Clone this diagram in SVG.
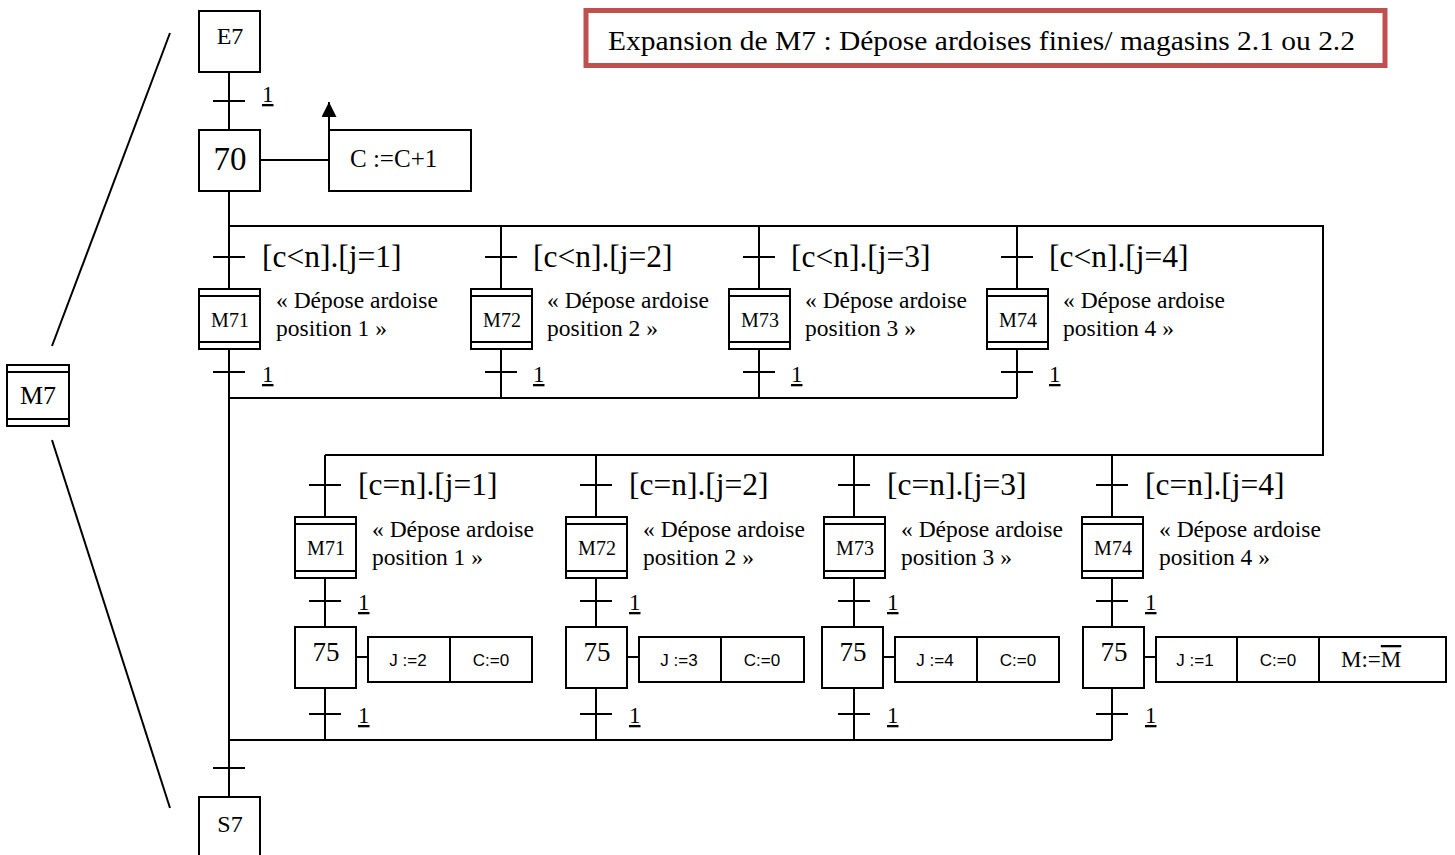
<svg xmlns="http://www.w3.org/2000/svg" width="1455" height="855" viewBox="0 0 1455 855" font-family="'Liberation Serif', 'Times New Roman', serif">
<style>
.box{fill:#fff;stroke:#000;stroke-width:2}
.ln{stroke:#000;stroke-width:2;fill:none}
.tr{stroke:#000;stroke-width:2}
text{font-family:"Liberation Serif","Times New Roman","DejaVu Serif",serif;fill:#000}
.st{font-size:24px;text-anchor:middle}
.big{font-size:33px;text-anchor:middle}
.n75{font-size:27px;text-anchor:middle}
.mac{font-size:20px;text-anchor:middle}
.cond{font-size:31.5px}
.desc{font-size:23.5px}
.one{font-size:23px;text-decoration:underline}
.act{font-size:25px}
.sans{font-family:"Liberation Sans",Arial,sans-serif;font-size:17px;text-anchor:middle}
.title{font-size:27px}
</style>
<defs>
<marker id="arr" viewBox="0 0 10 10" refX="10" refY="5" markerWidth="15" markerHeight="15" markerUnits="userSpaceOnUse" orient="auto">
<path d="M0,0 L10,5 L0,10 z" fill="#000"/>
</marker>
</defs>

<g id="connectors">
<line class="ln" x1="229" y1="72" x2="229" y2="130"/>
<line class="tr" x1="213" y1="101" x2="245" y2="101"/>
<line class="ln" x1="229" y1="191" x2="229" y2="226"/>
<polyline class="ln" points="229,226 1323,226 1323,455 325,455"/>
<line class="ln" x1="229" y1="226" x2="229" y2="289"/>
<line class="ln" x1="501" y1="226" x2="501" y2="289"/>
<line class="ln" x1="759" y1="226" x2="759" y2="289"/>
<line class="ln" x1="1017" y1="226" x2="1017" y2="289"/>
<line class="tr" x1="213" y1="257" x2="245" y2="257"/>
<line class="tr" x1="485" y1="257" x2="517" y2="257"/>
<line class="tr" x1="743" y1="257" x2="775" y2="257"/>
<line class="tr" x1="1001" y1="257" x2="1033" y2="257"/>
<line class="ln" x1="229" y1="349" x2="229" y2="398"/>
<line class="ln" x1="501" y1="349" x2="501" y2="398"/>
<line class="ln" x1="759" y1="349" x2="759" y2="398"/>
<line class="ln" x1="1017" y1="349" x2="1017" y2="398"/>
<line class="tr" x1="213" y1="372" x2="245" y2="372"/>
<line class="tr" x1="485" y1="372" x2="517" y2="372"/>
<line class="tr" x1="743" y1="372" x2="775" y2="372"/>
<line class="tr" x1="1001" y1="372" x2="1033" y2="372"/>
<line class="ln" x1="229" y1="398" x2="1017" y2="398"/>
<line class="ln" x1="229" y1="398" x2="229" y2="797"/>
<line class="tr" x1="213" y1="768" x2="245" y2="768"/>
<line class="ln" x1="325" y1="455" x2="325" y2="517"/>
<line class="ln" x1="596" y1="455" x2="596" y2="517"/>
<line class="ln" x1="854" y1="455" x2="854" y2="517"/>
<line class="ln" x1="1112" y1="455" x2="1112" y2="517"/>
<line class="tr" x1="309" y1="485" x2="341" y2="485"/>
<line class="tr" x1="580" y1="485" x2="612" y2="485"/>
<line class="tr" x1="838" y1="485" x2="870" y2="485"/>
<line class="tr" x1="1096" y1="485" x2="1128" y2="485"/>
<line class="ln" x1="325" y1="578" x2="325" y2="627"/>
<line class="ln" x1="596" y1="578" x2="596" y2="627"/>
<line class="ln" x1="854" y1="578" x2="854" y2="627"/>
<line class="ln" x1="1112" y1="578" x2="1112" y2="627"/>
<line class="tr" x1="309" y1="601" x2="341" y2="601"/>
<line class="tr" x1="580" y1="601" x2="612" y2="601"/>
<line class="tr" x1="838" y1="601" x2="870" y2="601"/>
<line class="tr" x1="1096" y1="601" x2="1128" y2="601"/>
<line class="ln" x1="325" y1="688" x2="325" y2="740"/>
<line class="ln" x1="596" y1="688" x2="596" y2="740"/>
<line class="ln" x1="854" y1="688" x2="854" y2="740"/>
<line class="ln" x1="1112" y1="688" x2="1112" y2="740"/>
<line class="tr" x1="309" y1="714" x2="341" y2="714"/>
<line class="tr" x1="580" y1="714" x2="612" y2="714"/>
<line class="tr" x1="838" y1="714" x2="870" y2="714"/>
<line class="tr" x1="1096" y1="714" x2="1128" y2="714"/>
<line class="ln" x1="229" y1="740" x2="1112" y2="740"/>
<line class="ln" x1="260" y1="160" x2="329" y2="160"/>
<line class="ln" x1="329" y1="130" x2="329" y2="102" marker-end="url(#arr)"/>
<line class="ln" x1="356" y1="657" x2="368" y2="657"/>
<line class="ln" x1="627" y1="657" x2="639" y2="657"/>
<line class="ln" x1="883" y1="657" x2="895" y2="657"/>
<line class="ln" x1="1144" y1="657" x2="1156" y2="657"/>
<line class="ln" x1="170" y1="33" x2="52" y2="346" stroke-width="1.5"/>
<line class="ln" x1="52" y1="440" x2="170" y2="808" stroke-width="1.5"/>
<text class="one" x="262" y="102">1</text>
<text class="cond" x="262" y="267">[c&lt;n].[j=1]</text>
<text class="cond" x="533" y="267">[c&lt;n].[j=2]</text>
<text class="cond" x="791" y="267">[c&lt;n].[j=3]</text>
<text class="cond" x="1049" y="267">[c&lt;n].[j=4]</text>
<text class="one" x="262" y="382">1</text>
<text class="one" x="533" y="382">1</text>
<text class="one" x="791" y="382">1</text>
<text class="one" x="1049" y="382">1</text>
<text class="cond" x="358" y="495">[c=n].[j=1]</text>
<text class="cond" x="629" y="495">[c=n].[j=2]</text>
<text class="cond" x="887" y="495">[c=n].[j=3]</text>
<text class="cond" x="1145" y="495">[c=n].[j=4]</text>
<text class="one" x="358" y="610">1</text>
<text class="one" x="629" y="610">1</text>
<text class="one" x="887" y="610">1</text>
<text class="one" x="1145" y="610">1</text>
<text class="one" x="358" y="723">1</text>
<text class="one" x="629" y="723">1</text>
<text class="one" x="887" y="723">1</text>
<text class="one" x="1145" y="723">1</text>
</g>

<g id="title">
<rect x="586" y="10.5" width="799" height="55" fill="#fff" stroke="#C0504D" stroke-width="5"/>
<text class="title" x="608" y="50" textLength="747" lengthAdjust="spacingAndGlyphs">Expansion de M7 : Dépose ardoises finies/ magasins 2.1 ou 2.2</text>
</g>

<g id="M7">
<rect class="box" x="7" y="365" width="62" height="61"/>
<line class="ln" x1="7" y1="372" x2="69" y2="372"/>
<line class="ln" x1="7" y1="419" x2="69" y2="419"/>
<text class="st" x="38" y="404" style="font-size:26px">M7</text>
</g>

<g id="E7">
<rect class="box" x="199" y="11" width="61" height="61"/>
<text class="st" x="230" y="44">E7</text>
</g>

<g id="step70">
<rect class="box" x="199" y="130" width="61" height="61"/>
<text class="big" x="230" y="170">70</text>
</g>

<g id="action70">
<rect class="box" x="329" y="130" width="142" height="61"/>
<text class="act" x="350" y="167">C :=C+1</text>
</g>

<g id="M71a">
<rect class="box" x="199" y="289" width="61" height="60"/>
<line class="ln" x1="199" y1="296" x2="260" y2="296"/>
<line class="ln" x1="199" y1="342" x2="260" y2="342"/>
<text class="mac" x="230" y="327">M71</text>
<text class="desc" x="276" y="308">« Dépose ardoise</text>
<text class="desc" x="276" y="336">position 1 »</text>
</g>
<g id="M72a">
<rect class="box" x="471" y="289" width="61" height="60"/>
<line class="ln" x1="471" y1="296" x2="532" y2="296"/>
<line class="ln" x1="471" y1="342" x2="532" y2="342"/>
<text class="mac" x="502" y="327">M72</text>
<text class="desc" x="547" y="308">« Dépose ardoise</text>
<text class="desc" x="547" y="336">position 2 »</text>
</g>
<g id="M73a">
<rect class="box" x="729" y="289" width="61" height="60"/>
<line class="ln" x1="729" y1="296" x2="790" y2="296"/>
<line class="ln" x1="729" y1="342" x2="790" y2="342"/>
<text class="mac" x="760" y="327">M73</text>
<text class="desc" x="805" y="308">« Dépose ardoise</text>
<text class="desc" x="805" y="336">position 3 »</text>
</g>
<g id="M74a">
<rect class="box" x="987" y="289" width="61" height="60"/>
<line class="ln" x1="987" y1="296" x2="1048" y2="296"/>
<line class="ln" x1="987" y1="342" x2="1048" y2="342"/>
<text class="mac" x="1018" y="327">M74</text>
<text class="desc" x="1063" y="308">« Dépose ardoise</text>
<text class="desc" x="1063" y="336">position 4 »</text>
</g>

<g id="M71b">
<rect class="box" x="295" y="517" width="61" height="61"/>
<line class="ln" x1="295" y1="524" x2="356" y2="524"/>
<line class="ln" x1="295" y1="571" x2="356" y2="571"/>
<text class="mac" x="326" y="555">M71</text>
<text class="desc" x="372" y="537">« Dépose ardoise</text>
<text class="desc" x="372" y="565">position 1 »</text>
</g>
<g id="M72b">
<rect class="box" x="566" y="517" width="61" height="61"/>
<line class="ln" x1="566" y1="524" x2="627" y2="524"/>
<line class="ln" x1="566" y1="571" x2="627" y2="571"/>
<text class="mac" x="597" y="555">M72</text>
<text class="desc" x="643" y="537">« Dépose ardoise</text>
<text class="desc" x="643" y="565">position 2 »</text>
</g>
<g id="M73b">
<rect class="box" x="824" y="517" width="61" height="61"/>
<line class="ln" x1="824" y1="524" x2="885" y2="524"/>
<line class="ln" x1="824" y1="571" x2="885" y2="571"/>
<text class="mac" x="855" y="555">M73</text>
<text class="desc" x="901" y="537">« Dépose ardoise</text>
<text class="desc" x="901" y="565">position 3 »</text>
</g>
<g id="M74b">
<rect class="box" x="1082" y="517" width="61" height="61"/>
<line class="ln" x1="1082" y1="524" x2="1143" y2="524"/>
<line class="ln" x1="1082" y1="571" x2="1143" y2="571"/>
<text class="mac" x="1113" y="555">M74</text>
<text class="desc" x="1159" y="537">« Dépose ardoise</text>
<text class="desc" x="1159" y="565">position 4 »</text>
</g>

<g id="step75a">
<rect class="box" x="295" y="627" width="61" height="61"/>
<text class="n75" x="326" y="661">75</text>
<rect class="box" x="368" y="637" width="164" height="45"/>
<line class="ln" x1="450" y1="637" x2="450" y2="682"/>
<text class="sans" x="408" y="666">J :=2</text>
<text class="sans" x="491" y="666">C:=0</text>
</g>
<g id="step75b">
<rect class="box" x="566" y="627" width="61" height="61"/>
<text class="n75" x="597" y="661">75</text>
<rect class="box" x="639" y="637" width="165" height="45"/>
<line class="ln" x1="721" y1="637" x2="721" y2="682"/>
<text class="sans" x="679" y="666">J :=3</text>
<text class="sans" x="762" y="666">C:=0</text>
</g>
<g id="step75c">
<rect class="box" x="822" y="627" width="61" height="61"/>
<text class="n75" x="853" y="661">75</text>
<rect class="box" x="895" y="637" width="164" height="45"/>
<line class="ln" x1="977" y1="637" x2="977" y2="682"/>
<text class="sans" x="935" y="666">J :=4</text>
<text class="sans" x="1018" y="666">C:=0</text>
</g>
<g id="step75d">
<rect class="box" x="1083" y="627" width="61" height="61"/>
<text class="n75" x="1114" y="661">75</text>
<rect class="box" x="1156" y="637" width="290" height="45"/>
<line class="ln" x1="1237" y1="637" x2="1237" y2="682"/>
<line class="ln" x1="1319" y1="637" x2="1319" y2="682"/>
<text class="sans" x="1195" y="666">J :=1</text>
<text class="sans" x="1278" y="666">C:=0</text>
<text x="1341" y="667" style="font-size:23px">M:=<tspan style="text-decoration:overline">M</tspan></text>
</g>

<g id="S7">
<rect class="box" x="199" y="797" width="61" height="70"/>
<text class="st" x="230" y="832">S7</text>
</g>
</svg>
